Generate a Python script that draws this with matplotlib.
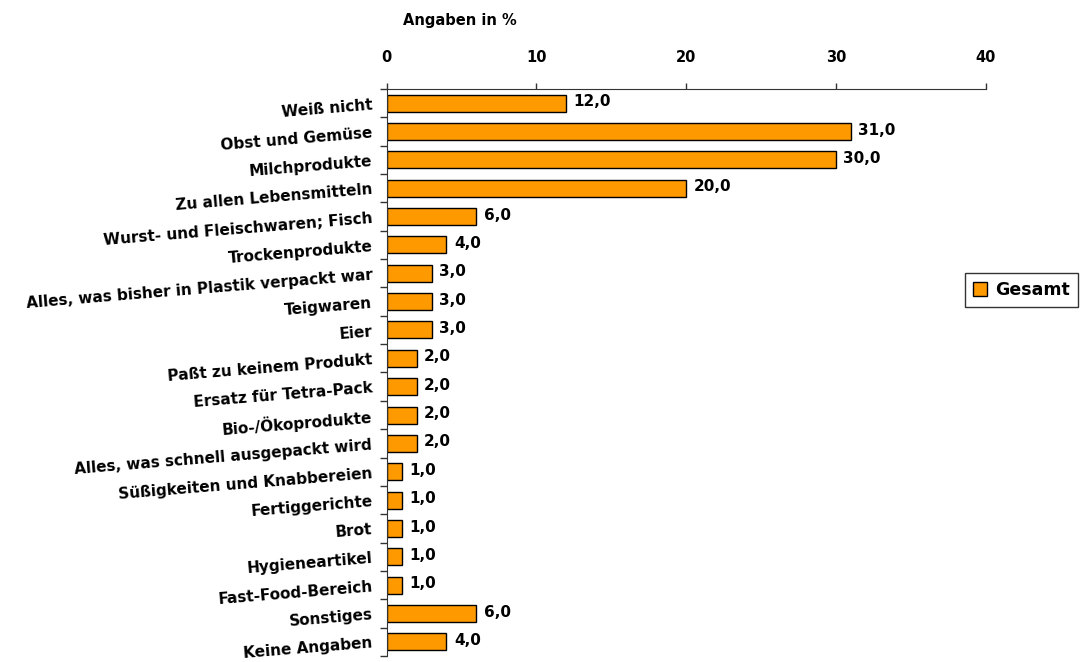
import matplotlib
matplotlib.use("Agg")
import matplotlib.pyplot as plt
from matplotlib.patches import Patch

categories = ["Weiß nicht", "Obst und Gemüse", "Milchprodukte", "Zu allen Lebensmitteln",
              "Wurst- und Fleischwaren; Fisch", "Trockenprodukte",
              "Alles, was bisher in Plastik verpackt war", "Teigwaren", "Eier",
              "Paßt zu keinem Produkt", "Ersatz für Tetra-Pack", "Bio-/Ökoprodukte",
              "Alles, was schnell ausgepackt wird", "Süßigkeiten und Knabbereien",
              "Fertiggerichte", "Brot", "Hygieneartikel", "Fast-Food-Bereich",
              "Sonstiges", "Keine Angaben"]
values = [12.0, 31.0, 30.0, 20.0, 6.0, 4.0, 3.0, 3.0, 3.0, 2.0, 2.0, 2.0, 2.0,
          1.0, 1.0, 1.0, 1.0, 1.0, 6.0, 4.0]
xticks = [0, 10, 20, 30, 40]
series_name = "Gesamt"

plt.rcParams['font.family'] = ['DejaVu Sans']
fig = plt.figure(figsize=(10.8, 6.62), dpi=100)
ax = fig.add_axes([386.6/1080, 1-656/662, (985.5-386.6)/1080, (656-89)/662])

n = len(categories)
ypos = list(range(n))
color = "#FF9900"
ax.barh(ypos, values, height=0.6, color=color, edgecolor="black", linewidth=1)
ax.set_ylim(n - 0.5, -0.5)
ax.set_xlim(0, 40)

for y, v in zip(ypos, values):
    ax.text(v + 0.5, y - 0.05, f"{v:.1f}".replace(".", ","), ha="left", va="center",
            fontsize=11, fontweight="bold")

ax.xaxis.tick_top()
ax.set_xticks(xticks)
ax.set_xticklabels([str(t) for t in xticks], fontsize=10.5, fontweight="bold")
ax.tick_params(axis='x', direction='out', length=4, width=1, color='#333333', pad=13)

ax.set_yticks([i - 0.5 for i in range(n + 1)])
ax.set_yticklabels([])
ax.tick_params(axis='y', direction='out', length=5, width=1, color='#333333')
for y, lab in zip(ypos, categories):
    ax.text(-0.95, y + 0.05, lab, ha="right", va="center", rotation=4.7,
            rotation_mode="anchor", fontsize=11, fontweight="bold",
            transform=ax.transData, clip_on=False)

for s in ["right", "bottom"]:
    ax.spines[s].set_visible(False)
ax.spines["top"].set_color("#333333")
ax.spines["left"].set_color("#333333")

fig.text(460/1080, 1-20/662, "Angaben in %", ha="center", va="center",
         fontsize=10.5, fontweight="bold")

leg = fig.legend(handles=[Patch(facecolor=color, edgecolor="black", label=series_name)],
                 loc="center left", bbox_to_anchor=(965/1080, 1-290/662),
                 fancybox=False, framealpha=1, edgecolor="#333333",
                 prop={'weight': 'bold', 'size': 12.5}, handlelength=0.8,
                 handleheight=0.8, handletextpad=0.5, borderpad=0.45, borderaxespad=0)
leg.get_frame().set_linewidth(1)

fig.savefig("out.png", dpi=100, facecolor="white")
